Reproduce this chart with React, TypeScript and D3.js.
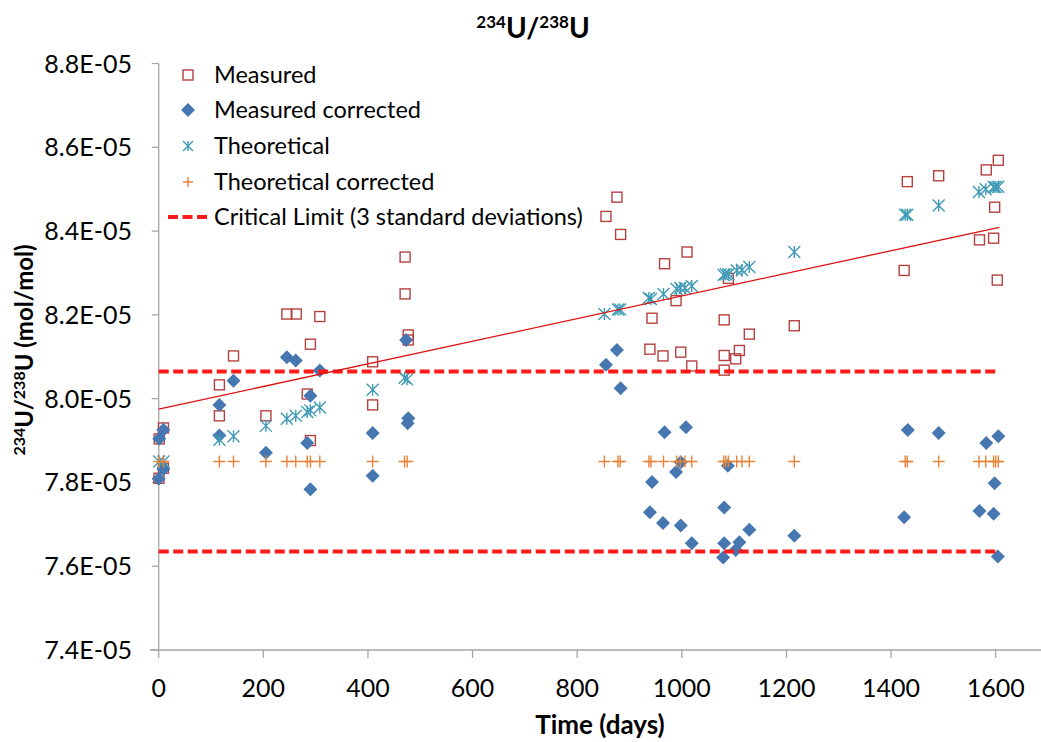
import React from 'react';
import * as d3 from 'd3';

// sample times (days) and values
const measuredDays = [1, 9, 0.5, 9, 116, 116, 143, 205, 245, 263, 284, 290, 290, 308, 409, 409, 471, 471, 477, 477,
  855, 876, 883, 939, 943, 964, 967, 989, 998, 1010, 1019, 1081, 1081, 1081, 1089, 1103, 1110, 1129, 1215,
  1425, 1431, 1491, 1569, 1582, 1596, 1598, 1603, 1605];
const measuredVals = [7.904, 7.930, 7.810, 7.834, 8.033, 7.959, 8.102, 7.959, 8.202, 8.202, 8.011, 8.130, 7.900, 8.196, 8.088, 7.985, 8.338, 8.250, 8.152, 8.140,
  8.435, 8.481, 8.392, 8.118, 8.192, 8.102, 8.322, 8.234, 8.111, 8.350, 8.078, 8.068, 8.103, 8.188, 8.287, 8.095, 8.115, 8.154, 8.174,
  8.306, 8.518, 8.532, 8.379, 8.546, 8.383, 8.457, 8.283, 8.569].map(v => v * 1e-5);

const correctedDays = [9, 1, 9, 0, 116, 116, 143, 205, 245, 262, 308, 290, 284, 290, 409, 409, 473, 477, 476,
  855, 876, 883, 967, 1008, 989, 943, 998, 1088, 939, 964, 998, 1019, 1081, 1081, 1079, 1103, 1110, 1129, 1215,
  1432, 1491, 1582, 1605, 1598, 1425, 1569, 1596, 1604];
const correctedVals = [7.926, 7.904, 7.832, 7.809, 7.985, 7.912, 8.043, 7.871, 8.099, 8.091, 8.067, 8.007, 7.894, 7.784, 7.918, 7.816, 8.140, 7.953, 7.941,
  8.081, 8.116, 8.025, 7.920, 7.932, 7.825, 7.801, 7.848, 7.840, 7.729, 7.703, 7.697, 7.655, 7.740, 7.655, 7.621, 7.639, 7.657, 7.687, 7.673,
  7.925, 7.918, 7.894, 7.910, 7.798, 7.717, 7.732, 7.725, 7.623].map(v => v * 1e-5);

const theoDays = [1, 9, 116, 143, 205, 245, 262, 284, 290, 308, 409, 470, 475,
  852, 878, 882, 937, 941, 965, 990, 997, 1006, 1019, 1080, 1084, 1089, 1105, 1115, 1129, 1215,
  1427, 1431, 1491, 1568, 1581, 1596, 1600, 1605];
const theoVals = [7.850, 7.850, 7.902, 7.910, 7.935, 7.952, 7.959, 7.968, 7.972, 7.979, 8.021, 8.050, 8.046,
  8.202, 8.213, 8.213, 8.240, 8.238, 8.250, 8.262, 8.264, 8.264, 8.269, 8.295, 8.297, 8.297, 8.306, 8.307, 8.314, 8.350,
  8.439, 8.439, 8.461, 8.493, 8.500, 8.505, 8.505, 8.506].map(v => v * 1e-5);

const theoCorrDays = theoDays;
const theoCorrVals = theoDays.map(() => 7.85e-5);

const criticalUpper = 8.065e-5;
const criticalLower = 7.635e-5;
const criticalEndDay = 1607;

const trendStart = [0, 7.975e-5];
const trendEnd = [1607, 8.409e-5];

const xTicks = [0, 200, 400, 600, 800, 1000, 1200, 1400, 1600];
const yTicks = [7.4e-5, 7.6e-5, 7.8e-5, 8.0e-5, 8.2e-5, 8.4e-5, 8.6e-5, 8.8e-5];

const legendLabels = ['Measured', 'Measured corrected', 'Theoretical', 'Theoretical corrected', 'Critical Limit (3 standard deviations)'];

const W = 1041;
const H = 742;
const FONT = 'Lato, "Open Sans", sans-serif';

const C_MEAS = '#b5413f';
const C_CORR = '#4677b0';
const C_THEO = '#3f9bb5';
const C_TCORR = '#e8833a';
const C_CRIT = '#ff1a1a';
const C_AXIS = '#a6a6a6';

const x = d3.scaleLinear().domain([0, 1600]).range([158.7, 995.7]);
const y = d3.scaleLinear().domain([7.4e-5, 8.8e-5]).range([650, 63.5]);

const fmtY = (v: number) => (v * 1e5).toFixed(1) + 'E-05';

const Square = ({ cx, cy }: { cx: number; cy: number }) => (
  <rect x={cx - 5} y={cy - 5} width={10} height={10} fill="none" stroke={C_MEAS} strokeWidth={1.4} />
);
const Diamond = ({ cx, cy }: { cx: number; cy: number }) => (
  <path d={`M${cx},${cy - 7}L${cx + 7},${cy}L${cx},${cy + 7}L${cx - 7},${cy}Z`} fill={C_CORR} />
);
const Star = ({ cx, cy, s = 6 }: { cx: number; cy: number; s?: number }) => (
  <path d={`M${cx - s},${cy - s}L${cx + s},${cy + s}M${cx - s},${cy + s}L${cx + s},${cy - s}M${cx},${cy - s}L${cx},${cy + s}`}
    stroke={C_THEO} strokeWidth={1.4} fill="none" />
);
const Plus = ({ cx, cy, s = 6 }: { cx: number; cy: number; s?: number }) => (
  <path d={`M${cx - s},${cy}L${cx + s},${cy}M${cx},${cy - s}L${cx},${cy + s}`}
    stroke={C_TCORR} strokeWidth={1.4} fill="none" />
);

export default function App() {
  const y0 = y(7.4e-5);
  const legendY = [75, 110, 146, 182, 217];
  return (
    <svg width={W} height={H} style={{ position: 'absolute', left: 0, top: 0, background: '#fff' }} fontFamily={FONT}>
      <rect width={W} height={H} fill="#fff" />
      {/* title */}
      <text x={533} y={38} textAnchor="middle" fontSize={28} fontWeight="bold" fill="#000">
        <tspan fontSize={17} dy={-10}>234</tspan>
        <tspan dy={10}>U/</tspan>
        <tspan fontSize={17} dy={-10}>238</tspan>
        <tspan dy={10}>U</tspan>
      </text>

      {/* axes */}
      <line x1={x(0)} x2={x(0)} y1={y(8.8e-5)} y2={y0} stroke={C_AXIS} strokeWidth={1.3} />
      <line x1={150} x2={W} y1={y0} y2={y0} stroke={C_AXIS} strokeWidth={1.3} />
      {yTicks.map(t => (
        <g key={t}>
          <line x1={x(0) - 7} x2={x(0)} y1={y(t)} y2={y(t)} stroke={C_AXIS} strokeWidth={1.3} />
          <text x={132} y={y(t)} dy="0.36em" textAnchor="end" fontSize={25} fill="#000">{fmtY(t)}</text>
        </g>
      ))}
      {xTicks.map(t => (
        <g key={t}>
          <line x1={x(t)} x2={x(t)} y1={y0} y2={y0 + 8} stroke={C_AXIS} strokeWidth={1.3} />
          <text x={x(t)} y={697} textAnchor="middle" fontSize={25} fill="#000">{t}</text>
        </g>
      ))}

      {/* axis titles */}
      <text x={600} y={734} textAnchor="middle" fontSize={26} fontWeight="bold">Time (days)</text>
      <text transform={`translate(33,350) rotate(-90)`} textAnchor="middle" fontSize={24} fontWeight="bold">
        <tspan fontSize={16} dy={-8}>234</tspan>
        <tspan dy={8}>U/</tspan>
        <tspan fontSize={16} dy={-8}>238</tspan>
        <tspan dy={8}>U (mol/mol)</tspan>
      </text>

      {/* series */}
      {measuredDays.map((d, i) => <Square key={'m' + i} cx={x(d)} cy={y(measuredVals[i])} />)}
      {correctedDays.map((d, i) => <Diamond key={'c' + i} cx={x(d)} cy={y(correctedVals[i])} />)}
      {theoDays.map((d, i) => <Star key={'t' + i} cx={x(d)} cy={y(theoVals[i])} />)}
      {theoCorrDays.map((d, i) => <Plus key={'p' + i} cx={x(d)} cy={y(theoCorrVals[i])} />)}

      {/* critical limits */}
      {[criticalUpper, criticalLower].map(v => (
        <line key={v} x1={x(0)} x2={x(criticalEndDay)} y1={y(v)} y2={y(v)} stroke={C_CRIT} strokeWidth={4} strokeDasharray="10,4.5" />
      ))}

      {/* trendline */}
      <line x1={x(trendStart[0])} y1={y(trendStart[1])} x2={x(trendEnd[0])} y2={y(trendEnd[1])} stroke="#e01010" strokeWidth={1.3} />

      {/* legend */}
      <Square cx={188} cy={legendY[0]} />
      <Diamond cx={188} cy={legendY[1]} />
      <Star cx={188} cy={legendY[2]} s={5} />
      <Plus cx={188} cy={legendY[3]} s={5} />
      <line x1={168} x2={207} y1={legendY[4]} y2={legendY[4]} stroke={C_CRIT} strokeWidth={4} strokeDasharray="10,4.5" />
      {legendLabels.map((l, i) => (
        <text key={l} x={214} y={legendY[i]} dy="0.36em" fontSize={23.5} fill="#000">{l}</text>
      ))}
    </svg>
  );
}
